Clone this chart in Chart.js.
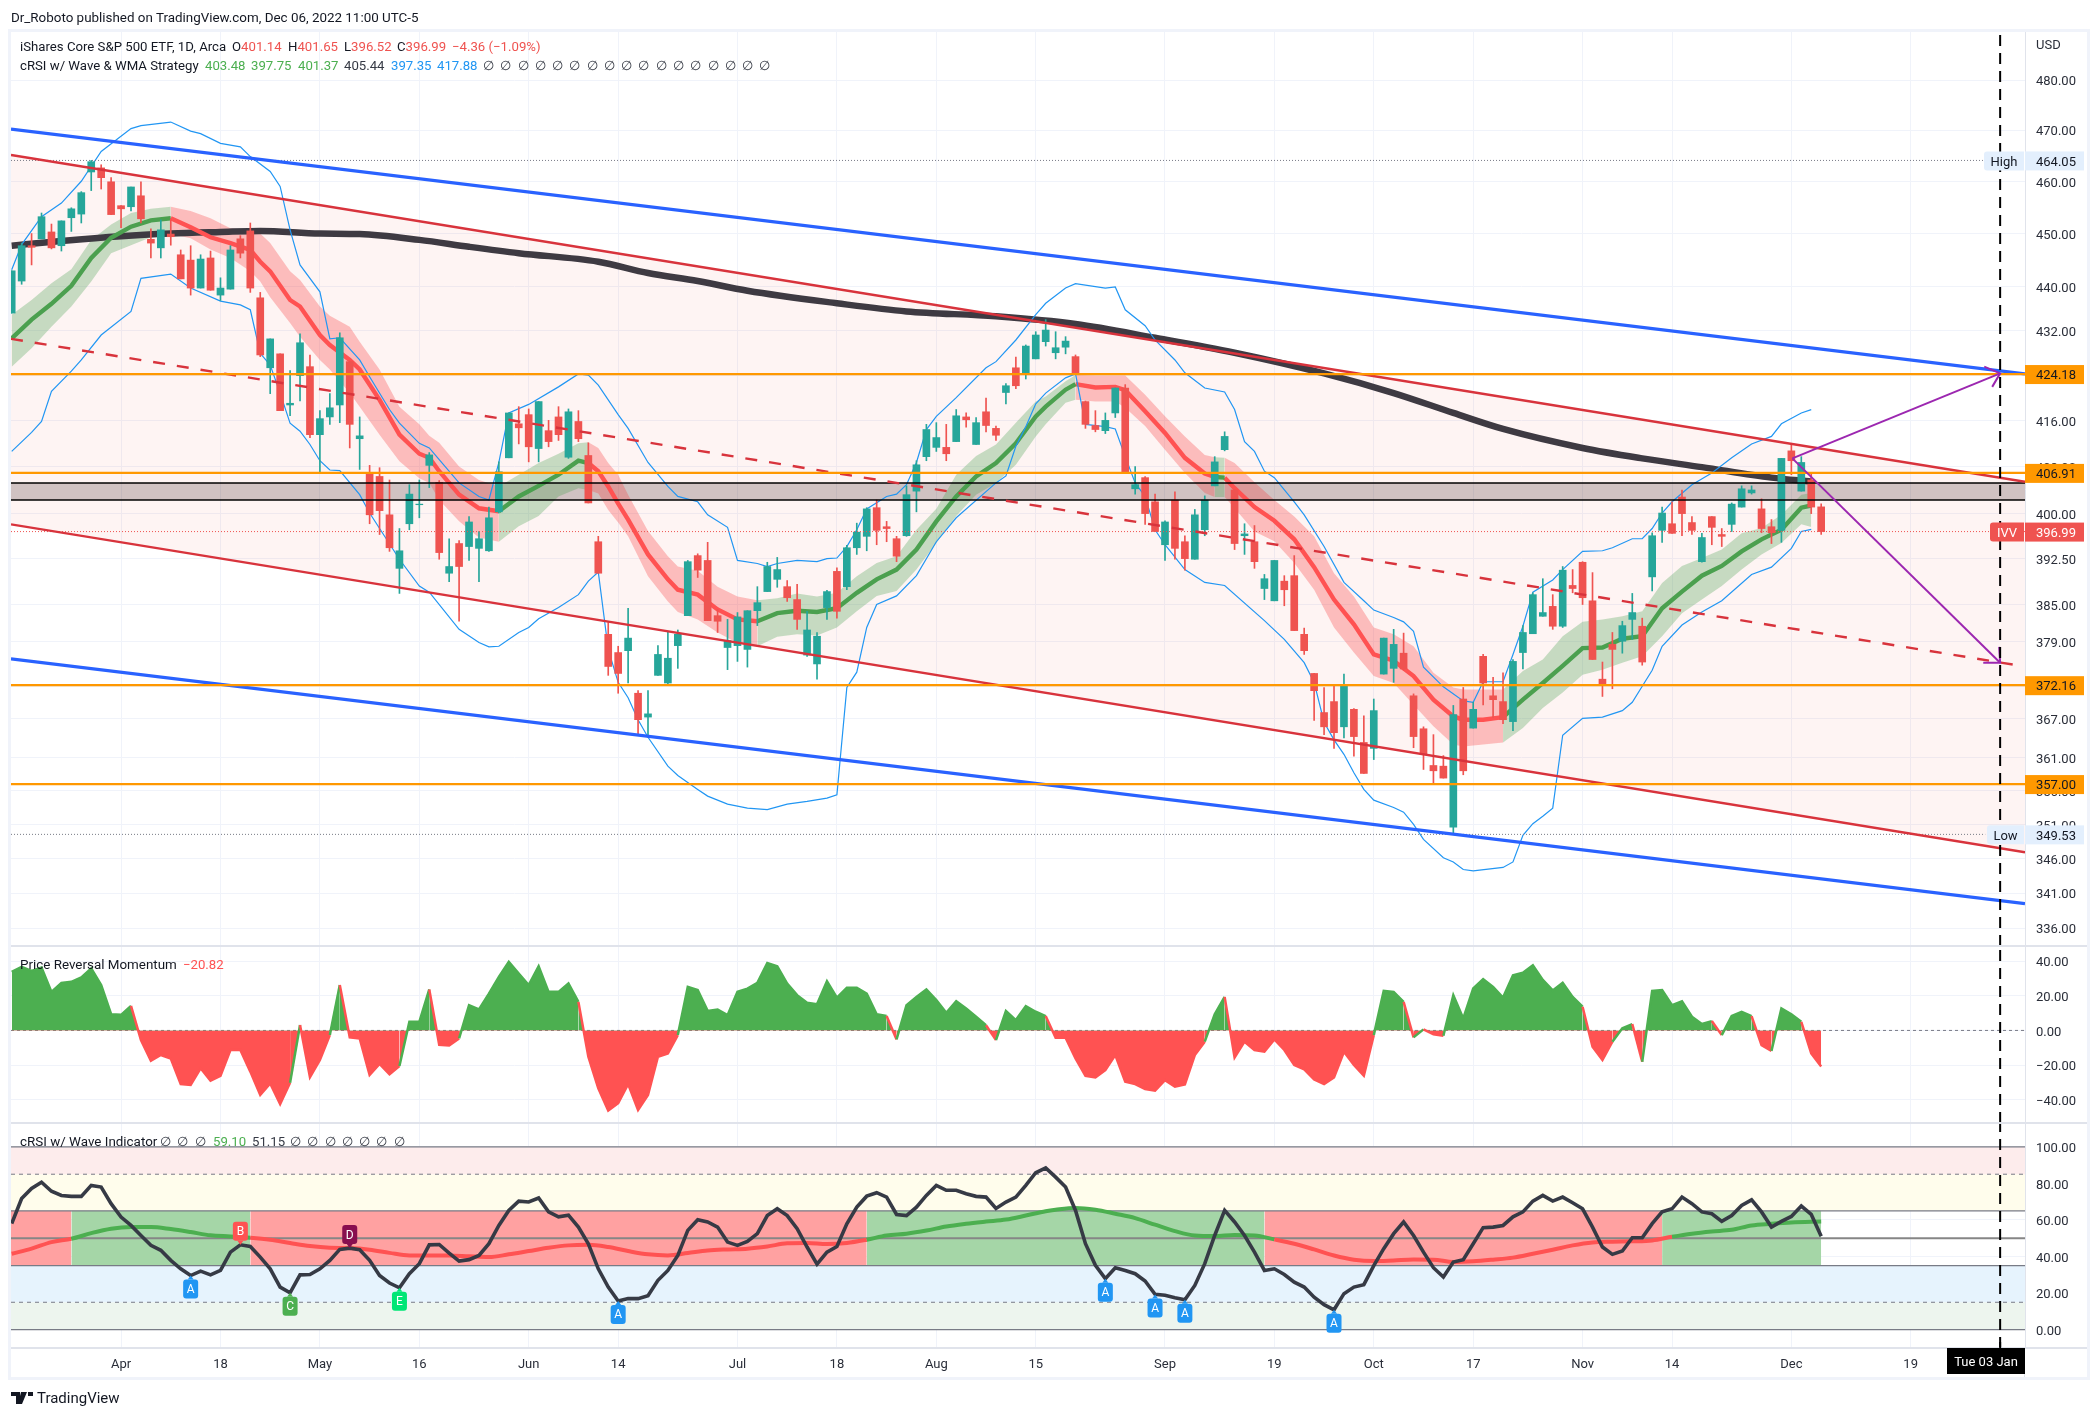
<!DOCTYPE html>
<html>
<head>
<meta charset="utf-8">
<title>IVV</title>
<script src="https://cdn.jsdelivr.net/npm/chart.js@4/dist/chart.umd.min.js"></script>
<style>
  html, body { margin: 0; padding: 0; background: #fff; width: 2099px; height: 1417px; overflow: hidden; }
  body { font-family: Roboto, sans-serif; font-size: 13.2px; color: #131722; position: relative; }
  canvas { position: absolute; left: 0; top: 0; }
  .frame { position: absolute; left: 8px; top: 29px; width: 2082px; height: 1351px; box-sizing: border-box; border: 3px solid #f0f3fa; pointer-events: none; }
  .t { position: absolute; white-space: nowrap; line-height: 16px; }
  .red { color: #ef5350; } .grn { color: #4caf50; } .blu { color: #2196f3; } .drk { color: #363a45; } .mom { color: #ff5252; }
  #logo { position: absolute; left: 11px; top: 1391px; }
</style>
</head>
<body>
<canvas id="myChart" width="2099" height="1417"></canvas>
<div class="frame"></div>
<div class="t" style="left:11px;top:10px;font-size:13.4px">Dr_Roboto published on TradingView.com, Dec 06, 2022 11:00 UTC-5</div>
<div class="t" style="left:20px;top:39px">iShares Core S&amp;P 500 ETF, 1D, Arca</div>
<div class="t" style="left:232px;top:39px">O<span class="red">401.14</span></div>
<div class="t" style="left:288px;top:39px">H<span class="red">401.65</span></div>
<div class="t" style="left:344px;top:39px">L<span class="red">396.52</span></div>
<div class="t" style="left:397px;top:39px">C<span class="red">396.99</span></div>
<div class="t red" style="left:452px;top:39px">−4.36 (−1.09%)</div>
<div class="t" style="left:20px;top:58px">cRSI w/ Wave &amp; WMA Strategy</div>
<div class="t grn" style="left:205px;top:58px">403.48</div>
<div class="t grn" style="left:251px;top:58px">397.75</div>
<div class="t grn" style="left:298px;top:58px">401.37</div>
<div class="t drk" style="left:344px;top:58px">405.44</div>
<div class="t blu" style="left:391px;top:58px">397.35</div>
<div class="t blu" style="left:437px;top:58px">417.88</div>
<div class="t drk" style="left:483px;top:58px;word-spacing:3px">∅ ∅ ∅ ∅ ∅ ∅ ∅ ∅ ∅ ∅ ∅ ∅ ∅ ∅ ∅ ∅ ∅</div>
<div class="t" style="left:20px;top:957px;font-size:13.4px">Price Reversal Momentum</div>
<div class="t mom" style="left:183px;top:957px">−20.82</div>
<div class="t" style="left:20px;top:1134px;font-size:13.4px">cRSI w/ Wave Indicator</div>
<div class="t drk" style="left:160px;top:1134px;word-spacing:3px">∅ ∅ ∅</div>
<div class="t grn" style="left:213px;top:1134px">59.10</div>
<div class="t drk" style="left:252px;top:1134px">51.15</div>
<div class="t drk" style="left:290px;top:1134px;word-spacing:3px">∅ ∅ ∅ ∅ ∅ ∅ ∅</div>
<svg id="logo" width="22" height="14" viewBox="0 0 22 14"><path d="M0 1h9v12H5V5H0zM10 1h6l-5 12H7zM17 1h5v4h-5z" fill="#131722"/></svg>
<div class="t" style="left:37px;top:1389px;font-size:15px;line-height:18px">TradingView</div>

<script>
// bars, index 0 is Apr 1 2022
const firstBar = -11;
const opens = [435.2,441.1,447.7,449.0,450.3,447.7,453.0,453.7,461.8,462.6,459.9,
  455.3,455.1,457.2,448.9,447.3,449.9,446.0,445.0,439.8,445.4,
  438.5,439.6,449.0,450.5,438.0,425.3,427.8,418.7,423.9,425.5,
  413.5,416.6,418.7,426.4,412.8,406.8,406.3,399.8,390.9,398.3,
  401.5,408.2,405.3,390.1,395.0,394.5,394.2,393.8,400.3,409.5,415.4,
  417.0,411.1,414.2,416.6,409.6,415.8,409.9,395.3,380.2,377.3,
  377.6,370.9,367.2,373.7,372.5,378.4,383.2,393.0,392.2,383.2,
  378.1,378.4,377.8,384.0,387.1,389.1,387.9,385.8,376.9,375.5,
  384.5,390.4,387.9,394.3,396.2,401.0,397.8,395.8,396.3,403.8,
  409.7,411.3,411.3,412.3,416.6,411.8,417.5,414.6,420.9,425.3,
  424.2,426.9,430.0,428.0,429.0,427.3,419.3,415.1,414.2,417.3,
  421.7,404.2,406.1,402.0,394.8,402.3,395.3,392.4,397.3,404.7,
  410.9,404.0,396.3,395.3,387.6,385.6,388.8,389.7,380.2,374.0,
  367.9,369.6,365.7,368.4,363.3,362.4,373.9,374.8,377.2,370.5,
  365.4,359.8,359.7,350.6,370.0,365.5,376.7,370.5,369.6,366.5,
  377.3,380.3,383.1,384.7,381.5,388.1,391.9,385.6,373.1,378.6,
  379.1,382.6,381.5,389.5,397.2,398.3,402.8,398.5,392.0,399.5,
  396.5,398.2,401.1,403.5,400.8,397.8,397.2,410.7,403.8,405.7,401.14];
const highs = [443.0,448.2,450.0,453.9,451.8,452.4,454.9,458.0,464.05,463.2,460.7,
  455.3,458.9,459.9,450.9,452.6,452.8,446.9,447.7,446.0,446.7,
  441.7,447.7,449.6,452.0,439.0,430.5,427.8,424.8,431.4,427.6,
  417.7,420.7,431.6,426.4,416.6,408.2,407.8,405.7,397.5,404.9,
  405.7,410.4,405.6,395.8,395.5,399.5,397.0,401.1,408.8,417.3,418.4,
  418.0,419.3,416.0,418.4,418.0,417.7,412.1,396.2,382.1,378.3,
  384.4,371.3,371.3,378.4,380.7,380.9,392.2,393.3,395.2,384.2,
  382.6,383.7,384.0,387.9,391.9,392.7,388.9,388.3,383.9,380.5,
  387.3,391.0,394.7,398.4,401.0,402.3,398.7,396.2,404.7,409.0,
  415.3,415.6,415.3,417.9,417.3,416.5,419.9,415.0,422.5,427.2,
  429.4,431.8,434.0,431.8,430.9,427.6,419.4,417.7,417.3,421.7,
  422.3,408.0,406.3,403.3,398.8,403.7,396.3,400.7,403.0,409.7,
  414.0,404.0,398.3,398.0,389.9,392.2,389.7,393.0,381.2,374.0,
  371.8,372.0,373.9,368.5,367.4,370.0,379.6,381.0,380.4,370.8,
  365.7,364.5,361.3,369.0,371.8,369.5,377.0,373.4,374.1,376.2,
  381.6,386.9,389.2,386.6,391.2,390.7,392.0,390.2,375.8,380.5,
  382.3,386.8,382.8,396.8,401.1,402.0,404.0,399.5,396.7,399.5,
  397.5,401.8,404.7,404.7,402.5,399.0,409.4,411.8,409.7,406.7,401.65];
const lows = [435.2,440.5,444.1,449.0,447.1,446.7,450.4,452.0,458.2,458.5,453.6,
  451.1,454.3,452.0,445.4,445.4,447.8,441.5,438.5,439.8,439.4,
  437.5,439.6,445.4,439.0,427.3,420.7,417.7,416.8,419.4,413.0,
  406.8,415.3,415.6,411.2,407.5,398.3,396.5,393.7,386.8,397.3,
  399.3,404.4,392.4,388.7,382.3,392.2,388.7,393.7,400.1,409.5,411.9,
  408.8,408.8,411.4,412.5,409.4,412.3,401.8,390.1,373.7,370.9,
  372.5,364.4,364.1,373.7,372.2,374.8,383.2,389.4,382.4,380.5,
  374.6,375.9,375.0,381.6,387.1,387.8,385.5,381.0,376.7,373.1,
  382.6,382.8,387.4,393.2,393.8,394.8,395.3,392.0,396.2,400.3,
  409.0,410.6,409.0,412.3,414.8,411.8,414.0,412.5,418.9,421.6,
  423.3,426.9,429.2,426.9,427.8,424.2,414.6,414.0,413.7,416.5,
  407.1,403.3,398.2,397.0,392.2,392.4,390.6,392.4,396.3,404.7,
  410.7,394.0,393.2,390.9,385.8,385.6,384.8,380.8,377.0,366.7,
  364.5,362.4,364.0,361.2,358.6,360.7,373.9,372.6,374.5,362.5,
  359.2,357.2,357.9,349.53,358.4,365.5,369.1,367.1,366.2,365.1,
  374.7,380.3,383.1,381.0,381.3,386.9,385.0,376.2,370.4,371.6,
  377.2,379.4,375.3,387.2,395.2,396.7,396.3,396.5,391.9,394.8,
  394.5,397.0,401.1,403.3,396.8,395.0,395.2,406.6,403.8,400.0,396.52];
const closes = [443.0,447.7,447.4,453.2,447.3,452.4,454.7,457.8,463.8,460.7,453.6,
  454.7,458.9,452.8,448.2,450.7,449.4,441.5,439.8,445.2,439.4,
  439.8,446.9,446.3,439.8,427.6,430.5,417.7,419.0,429.8,413.5,
  416.3,418.2,430.7,415.3,413.3,399.8,400.5,394.3,393.8,403.3,
  401.6,410.0,393.5,391.2,391.2,398.6,395.8,399.3,407.1,417.3,414.7,
  411.4,419.3,412.3,413.5,417.5,412.8,401.8,390.1,375.1,374.0,
  379.6,366.8,367.7,377.0,376.4,380.2,392.0,390.6,382.4,382.3,
  379.2,383.0,384.0,385.3,391.2,390.7,386.1,382.6,380.9,379.9,
  387.1,383.9,394.3,396.9,400.8,397.2,397.5,392.9,403.2,408.3,
  414.4,413.0,410.2,416.8,416.1,415.6,415.1,413.4,422.1,422.1,
  429.2,431.2,432.1,428.9,430.1,424.2,415.3,414.4,416.0,421.7,
  407.1,404.9,400.0,397.0,398.6,394.2,392.5,399.8,402.3,408.8,
  413.2,395.0,396.6,392.0,389.2,392.2,387.4,380.8,377.6,371.3,
  365.7,364.8,372.2,364.2,358.6,368.2,379.6,378.6,374.7,364.2,
  361.5,359.0,357.9,367.6,359.0,368.4,372.5,369.9,366.8,375.9,
  380.5,386.6,383.7,381.5,390.6,387.6,386.1,376.2,372.4,377.8,
  381.6,383.7,375.8,396.3,400.1,396.7,400.0,397.2,396.0,397.7,
  396.2,401.6,404.2,404.0,397.5,396.8,409.4,409.0,408.7,401.1,396.99];

// wave channel on the price pane
const waveIdx = [-11,-9,-7,-5,-3,-1,1,3,5,7,9,11,13,14,15,17,18,20,21,23,24,26,28,30,31,32,34,36,38,
  40,42,44,46,47,48,49,50,51,53,55,56,58,60,62,64,66,68,70,72,74,76,78,80,82,84,86,88,90,92,93,95,96,
  98,100,101,103,105,107,109,110,111,112,114,116,118,120,122,124,126,128,130,132,134,135,137,139,
  141,143,145,147,149,151,153,155,157,159,161,163,165,167,169,170];
const waveUpper = [434.9,437.6,440.7,443.3,448.8,451.7,453.9,454.7,455.1,454.3,452.9,451.0,450.5,450.0,448.2,442.9,441.3,436.4,434.7,432.7,430.0,425.0,418.4,415.3,413.3,412.1,408.0,405.7,404.6,
  406.6,408.6,410.2,412.0,412.2,411.2,408.6,406.6,403.2,397.1,392.9,391.2,390.5,387.9,386.3,385.7,386.0,386.8,386.3,386.9,389.6,391.8,392.9,397.3,400.8,406.6,409.8,411.8,415.6,419.3,420.2,422.9,424.0,
  423.9,423.9,423.9,420.5,416.7,413.2,410.0,409.6,409.5,408.6,405.3,402.3,399.5,396.2,390.1,386.3,381.3,380.2,378.3,374.1,371.8,371.5,371.5,371.5,
  374.4,376.2,379.9,382.2,382.6,383.1,383.9,388.5,391.3,392.6,394.0,396.7,397.6,399.8,403.2,403.48];
const waveMid = [430.6,434.0,436.9,440.2,445.4,449.2,451.3,452.5,452.9,451.2,449.3,448.2,446.9,444.7,442.9,437.6,436.4,431.2,429.4,426.7,425.0,419.6,413.5,410.2,409.5,407.2,403.2,400.9,400.4,
  402.9,404.7,406.6,409.0,408.6,407.2,404.6,401.7,399.0,393.2,389.1,387.4,386.6,384.2,382.6,382.3,383.6,384.0,383.8,384.4,386.9,389.1,390.7,394.0,398.7,402.9,406.3,408.6,412.0,416.7,418.4,421.4,422.4,
  421.8,421.9,421.3,417.6,413.8,409.5,406.8,406.2,406.1,404.3,401.1,398.8,395.7,391.1,385.8,381.8,377.0,376.0,373.6,369.9,367.3,366.8,366.8,367.2,
  369.9,372.5,375.2,378.0,378.1,379.5,379.9,384.4,387.1,389.7,391.3,393.7,395.7,397.3,401.0,401.37];
const waveLower = [425.5,428.8,432.7,436.4,441.0,446.3,447.8,449.3,449.9,449.1,447.0,445.4,442.9,441.0,438.1,433.4,430.9,426.7,425.0,420.8,418.4,413.5,408.9,406.0,405.2,402.3,398.7,396.0,395.3,
  397.9,399.6,402.9,404.3,404.0,403.4,400.6,398.5,396.2,389.6,385.5,383.8,382.6,380.5,378.8,378.3,379.8,380.2,380.0,381.3,383.9,386.4,387.2,390.7,395.1,399.6,403.2,405.2,408.3,413.2,415.3,419.1,419.6,
  419.3,419.3,418.2,415.0,410.9,406.9,403.5,402.8,402.8,400.9,397.0,395.4,391.8,387.4,381.3,377.3,373.6,372.5,369.1,365.8,363.0,362.7,363.0,363.3,
  365.5,368.6,371.0,373.8,374.6,375.7,376.7,379.9,383.6,385.8,388.0,390.7,393.2,395.1,398.2,397.75];
const waveRunStarts = [-11,5,38,47,64,96,110,111,139];
const waveRunEnds = [5,38,47,64,96,110,111,139,170];
const waveRunUp = [true,false,true,false,true,false,true,false,true];

// long moving average
const smaIdx = [-11,-6,0,5,10,14,20,24,30,35,40,48,53,58,63,72,79,88,96,104,112,121,128,134,139,147,153,159,166,170];
const smaVals = [447.7,448.6,449.5,450.0,450.3,450.5,450.0,449.9,448.8,447.5,446.3,444.7,442.6,441.1,439.3,437.0,435.5,434.6,433.2,430.7,428.0,424.3,420.8,417.3,414.5,411.2,409.4,407.9,406.1,405.44];

// thin blue envelope
const envUpIdx = [-11,-10,-8,-6,-4,-2,1,2,5,7,8,10,12,13,15,16,17,18,20,21,22,24,25,27,28,30,31,32,34,36,37,38,39,41,44,46,47,48,50,51,53,55,56,58,59,61,62,64,65,66,68,70,71,72,73,74,75,77,78,79,80,81,82,84,87,88,90,92,93,95,96,99,100,101,103,104,106,107,109,111,112,113,114,115,116,118,119,121,123,125,126,128,129,130,131,133,135,136,137,139,140,141,142,144,145,147,149,150,152,153,154,155,156,158,160,162,164,166,167,169,170];
const envUpVals = [443.2,447.9,453.2,455.8,460.0,465.8,470.3,470.9,471.6,469.8,469.3,467.4,466.7,464.8,461.9,459.0,450.7,444.1,439.1,430.5,430.7,426.7,423.7,417.9,415.5,412.0,411.2,409.2,405.2,402.9,402.3,408.7,417.3,418.8,421.9,424.2,424.0,422.2,417.0,414.6,408.7,404.6,402.9,402.0,399.8,397.7,392.2,391.7,391.2,391.7,392.2,392.0,392.5,392.6,394.5,397.3,400.8,402.9,403.3,404.9,408.7,414.4,416.7,420.0,425.3,426.4,430.3,434.9,437.0,439.8,440.6,439.8,440.0,435.8,432.9,430.3,426.7,424.4,421.7,421.0,417.9,412.3,410.6,407.2,406.1,402.0,399.8,394.5,388.6,385.6,384.1,382.9,382.2,380.7,375.0,371.9,369.7,369.5,372.7,372.7,377.0,381.5,387.0,389.0,390.7,393.7,393.8,394.3,395.8,395.8,397.5,400.1,402.0,404.9,406.9,409.5,411.9,413.2,415.4,417.3,417.88];
const envLowIdx = [-11,-9,-8,-7,-5,-4,-2,1,2,5,7,10,12,13,14,15,16,17,18,19,20,21,22,24,25,28,30,31,34,36,37,38,40,41,42,44,46,47,48,49,50,51,52,53,55,56,58,59,61,63,65,67,69,71,72,73,74,75,76,78,80,82,84,88,89,90,91,92,93,95,96,97,99,100,101,102,103,104,105,107,109,111,115,117,119,120,121,122,123,124,125,126,128,129,130,131,133,134,135,136,139,140,141,142,143,144,145,147,149,151,152,153,154,155,157,159,161,164,166,168,169,170];
const envLowVals = [410.6,413.9,415.8,421.1,424.7,426.7,431.2,435.5,441.6,442.4,439.8,437.4,436.7,435.8,427.9,425.8,420.8,415.5,414.1,411.8,409.0,407.4,407.3,403.2,400.1,392.4,388.0,387.0,381.0,378.9,378.2,378.3,380.5,381.3,382.7,384.5,386.6,388.8,390.3,377.8,372.6,370.2,366.8,364.1,359.7,358.3,356.2,355.2,354.0,353.4,353.2,354.0,354.4,354.9,355.4,371.8,374.2,381.3,385.0,386.4,389.7,395.3,399.3,405.2,406.4,411.5,414.9,418.9,420.8,423.5,424.2,415.3,414.9,414.5,409.7,405.2,402.9,397.3,394.8,390.7,388.6,388.1,382.4,379.4,375.7,372.6,366.4,363.7,361.5,358.7,356.2,354.6,353.5,352.8,351.0,348.8,346.1,345.5,344.4,344.2,344.7,345.5,349.4,351.1,352.2,353.4,364.4,367.0,367.2,368.2,369.5,372.0,374.5,378.3,381.7,383.8,385.6,389.9,391.1,394.2,397.0,397.35];

// drawings on the price pane, [bar, price] ends
const channelTop = [[-11.07,465.1],[191.5,405.4]];
const channelMid = [[-11.07,430.5],[190.7,375.3]];
const channelBottom = [[-11.07,398.2],[191.5,346.9]];
const blueTop = [[-11.07,470.2],[191.5,424.2]];
const blueBottom = [[-11.07,376.3],[191.5,339.5]];
const arrowUp = [[168.1,409.4],[189,424.3]];
const arrowUpHead = [[187.4,425.5],[189,424.3],[188.2,421.9]];
const arrowDown = [[168.1,409.4],[189,375.7]];
const arrowDownHead = [[187.3,375.7],[189,375.7],[188.9,378.2]];
const orangeLevels = [424.18,406.91,372.16,357.0];
const boxTop = 405.2;
const boxBottom = 402.3;

// price reversal momentum
const momentum = [33.8,36.7,34.4,36.3,22.3,27.5,28.1,30.6,35.8,26.2,9.4,
  9.0,14.2,-5.6,-17.5,-14.2,-16.2,-31,-31.5,-21.9,-29,
  -26.3,-11.3,-11.3,-23.8,-37.3,-30.6,-42.5,-30.2,3.1,-27.1,
  -17.1,-2.7,26.2,-4,-4.6,-25.8,-19.4,-25.4,-20.6,5,
  5,23.7,-8.3,-8.7,-4.6,14.6,12.1,21.3,31,39.6,32.9,
  26.2,37.1,22.3,22.3,27.1,16.5,-15.2,-33.5,-46.3,-42.1,
  -31,-46,-37.3,-15.2,-13.3,-2.7,25.2,23.3,11.3,12.1,
  8.8,22.3,24.2,27.5,39,37.1,27.1,20.4,16,15.2,
  28.5,19,24.6,24.6,21.3,9.4,8.3,-5.2,14.6,19.4,
  23.7,17.5,10.2,16.9,12.7,7.9,3,-5.6,11.2,6,
  14.1,10.8,8.3,-4.2,-4.2,-16.2,-26.3,-27.1,-22.9,-14.2,
  -29.6,-31,-33.9,-34.8,-28.7,-32.5,-31.2,-14.2,-6.5,9.4,
  19.4,-15.6,-6.5,-11.3,-12.3,-5.2,-11.3,-20,-22.5,-28.3,
  -31,-27.1,-12.3,-20,-26.2,-2.7,22.9,22.3,16.5,-4,
  0.6,-2.3,-3.1,20.4,6.9,24.2,29.6,25.2,19,31.9,
  33.3,37.7,29.2,23.1,27.5,19.4,13.7,-9.4,-17.1,-6.5,
  1.2,3.7,-18.1,22.9,23.3,14.6,16.9,7.9,3.7,5.4,
  -2.7,8.3,10.8,8.3,-8.5,-11.8,12.7,9.4,5,-13.3,-20.82];

// cRSI pane
const crsi = [58,71.7,77.2,80.6,75.7,73.4,72.9,72.9,78.9,78,68.9,
  61.6,57,51.5,46.1,43.4,37.9,33.3,29.6,32,30,
  32.4,42.4,46.4,45.5,39.7,33.3,23.3,20.2,30,30.2,
  33.3,37.9,43.9,44.6,43.7,37.9,29.6,25.5,22.9,30.6,
  36.1,46.4,46.6,41.9,37.5,38.3,40.6,47,57,65.2,70.3,
  69.8,72,64.4,61.7,62.6,56.1,47,33.3,23.3,15.7,
  17,17,18.6,27,32.4,40.6,54.3,60.1,58.9,56.1,
  47.9,46.1,48.3,52.5,62.4,66.1,62.4,55.2,45.2,35.8,
  42.4,45.5,57.9,67,73,74.9,72.5,63,62.4,67,
  73.4,78.9,76.2,76.2,74.3,72.9,72.5,66.3,69.8,72.5,
  78.9,85.8,88.4,83.4,78,65.2,47,35.2,27.9,33.9,
  32.4,30.6,26.6,19.3,18.8,17.5,16.4,24.2,36.1,51.5,
  65.2,58.9,51.5,42.4,32.4,33.3,30.2,26,23.3,17.8,
  13.7,10.9,19.7,23.3,24.6,35,44.3,52.5,58.9,51.5,
  42.4,33.9,28.8,37,38.3,47,55.8,56.1,57,61.7,
  64.4,70.3,73.4,70.3,72.5,69.4,66.1,56.1,45.2,41.2,
  43,50.3,50.3,58,64.4,66.1,72.5,68.9,64.4,63.4,
  59.2,62.4,67.9,71,64.4,56.1,59.2,61.9,67.6,63,51.15];
const crsiWaveIdx = [-11,-9,-7,-5,-3,-1,1,3,5,7,9,11,13,15,17,19,21,23,25,27,29,31,33,35,37,39,41,43,45,47,49,51,53,55,57,59,61,63,65,67,69,71,73,75,77,79,81,83,85,87,89,91,93,94,96,98,100,102,104,106,108,110,112,114,116,118,120,122,124,126,128,130,132,134,136,138,140,142,144,146,148,150,152,154,156,158,160,162,164,166,168,171];
const crsiWaveVals = [41.5,44.3,47.9,49.7,52.8,55.2,56.1,56.1,55,53.4,51.6,51,50.3,49.2,47.4,45.7,44.8,44.6,43.7,42,40.6,40.6,40.6,40.1,39.7,41.2,43,44.8,46.1,46.4,45.2,43,41.2,40.6,41.9,43.3,43.9,44.3,45.5,47.2,47.4,46.8,47.4,49.2,51.5,52.5,54.2,56.4,57.9,59.1,60.2,62.4,64.8,65.6,66.6,65.6,63.4,61,57.4,53.9,51.5,51.2,51.8,51.5,49.4,47,43.9,40.6,38.3,37.5,37.9,38.4,38.3,37,37.4,38.3,39.4,41.5,43.7,46.1,47.7,48.1,48.3,48.8,50.8,52.5,53.7,54.6,57,57.9,58.6,59.1];
const crsiRunStarts = [-11.07,-5,13,75,115,155];
const crsiRunEnds = [-5,13,75,115,155,171];
const crsiRunUp = [false,true,false,true,false,true];
const markerBars = [7,12,17,23,28,50,99,104,107,122];
const markerTexts = ['A','B','C','D','E','A','A','A','A','A'];
const markerColors = ['#2196f3','#ff5252','#4caf50','#880e4f','#00e676','#2196f3','#2196f3','#2196f3','#2196f3','#2196f3'];
const markerAbove = [false,true,false,true,false,false,false,false,false,false];

// axes
const priceTicks = [480,470,460,450,440,432,424,416,408,400,392.5,385,379,372,367,361,356,351,346,341,336];
const momentumTicks = [40,20,0,-20,-40];
const crsiTicks = [100,80,60,40,20,0];
const timeBars = [0,10,20,30,41,50,62,72,82,92,105,116,126,136,147,156,168,180];
const timeLabels = ['Apr','18','May','16','Jun','14','Jul','18','Aug','15','Sep','19','Oct','17','Nov','14','Dec','19'];
const crossBar = 189;

// right side price tags
const tagValues = [424.18,406.91,372.16,357.0];
const tagFills = ['#ff9800','#ff9800','#ff9800','#ff9800'];
const highValue = 464.05;
const lowValue = 349.53;
const lastValue = 396.99;

const xMin = -11.07, xMax = 191.5;
const TEAL = '#26a69a', RED = '#ef5350';
const GRN_LINE = '#4ba04f', RED_LINE = '#ff5252';
const FONT = 'Roboto, sans-serif';

function pts(xs, ys) { return xs.map((x, i) => ({ x: x, y: ys[i] })); }
function pairs(list) { return list.map(p => ({ x: p[0], y: p[1] })); }
function line(data, axis, color, width, order, extra) {
    return Object.assign({
        type: 'line', data: data, yAxisID: axis, borderColor: color, borderWidth: width,
        pointRadius: 0, order: order, tension: 0, fill: false
    }, extra || {});
}
function level(value, axis, color, width, order, dash, from, to) {
    return line([{ x: from === undefined ? xMin : from, y: value }, { x: to === undefined ? xMax : to, y: value }],
        axis, color, width, order, dash ? { borderDash: dash } : {});
}
function band(top, bottom, axis, color, order, from, to) {
    const f = from === undefined ? xMin : from, t = to === undefined ? xMax : to;
    return [
        line([{ x: f, y: top }, { x: t, y: top }], axis, 'transparent', 0, order, { fill: '+1', backgroundColor: color }),
        line([{ x: f, y: bottom }, { x: t, y: bottom }], axis, 'transparent', 0, order)
    ];
}

const barXs = closes.map((c, i) => firstBar + i);
const datasets = [];

// ---- price pane
datasets.push(line(pairs(channelTop), 'yPrice', 'transparent', 0, 90, { fill: '+1', backgroundColor: 'rgba(244,67,54,0.06)' }));
datasets.push(line(pairs(channelBottom), 'yPrice', 'transparent', 0, 90));
band(boxTop, boxBottom, 'yPrice', 'rgba(80,60,60,0.27)', 85).forEach(d => datasets.push(d));

waveRunStarts.forEach((start, r) => {
    const a = waveIdx.indexOf(start), b = waveIdx.indexOf(waveRunEnds[r]) + 1;
    const up = waveRunUp[r];
    const xs = waveIdx.slice(a, b);
    datasets.push(line(pts(xs, waveUpper.slice(a, b)), 'yPrice', 'transparent', 0, 80,
        { fill: '+1', backgroundColor: up ? 'rgba(70,160,77,0.3)' : 'rgba(250,60,60,0.3)' }));
    datasets.push(line(pts(xs, waveLower.slice(a, b)), 'yPrice', 'transparent', 0, 80));
    datasets.push(line(pts(xs, waveMid.slice(a, b)), 'yPrice', up ? GRN_LINE : RED_LINE, 4.4, 70));
});
datasets.push(line(pts(smaIdx, smaVals), 'yPrice', '#3e3a42', 6.5, 75, { cubicInterpolationMode: 'monotone' }));
datasets.push(line(pts(envUpIdx, envUpVals), 'yPrice', '#2196f3', 1.2, 65));
datasets.push(line(pts(envLowIdx, envLowVals), 'yPrice', '#2196f3', 1.2, 65));

const candleColors = closes.map((c, i) => c >= opens[i] ? TEAL : RED);
datasets.push({
    type: 'bar', yAxisID: 'yPrice', order: 60, grouped: false, barThickness: 1,
    data: barXs.map((x, i) => ({ x: x, y: [lows[i], highs[i]] })), backgroundColor: candleColors
});
datasets.push({
    type: 'bar', yAxisID: 'yPrice', order: 59, grouped: false, barThickness: 7,
    data: barXs.map((x, i) => ({ x: x, y: [opens[i], closes[i]] })), backgroundColor: candleColors
});

datasets.push(line([{ x: xMin, y: boxTop }, { x: xMax, y: boxTop }], 'yPrice', '#000', 1.5, 50));
datasets.push(line([{ x: xMin, y: boxBottom }, { x: xMax, y: boxBottom }], 'yPrice', '#000', 1.5, 50));
datasets.push(line(pairs(channelTop), 'yPrice', '#d8333c', 2.4, 40));
datasets.push(line(pairs(channelBottom), 'yPrice', '#d8333c', 2.4, 40));
datasets.push(line(pairs(channelMid), 'yPrice', '#d8333c', 2.4, 40, { borderDash: [12, 12] }));
datasets.push(line(pairs(blueTop), 'yPrice', '#2962ff', 3.3, 40));
datasets.push(line(pairs(blueBottom), 'yPrice', '#2962ff', 3.3, 40));
orangeLevels.forEach(v => datasets.push(level(v, 'yPrice', '#ff9800', 2.2, 35)));
datasets.push(level(highValue, 'yPrice', '#787b86', 1, 45, [1, 2], xMin, 187.5));
datasets.push(level(lowValue, 'yPrice', '#787b86', 1, 45, [1, 2], xMin, 187.5));
datasets.push(level(lastValue, 'yPrice', '#ef5350', 1, 45, [1, 2]));
[arrowUp, arrowUpHead, arrowDown, arrowDownHead].forEach(a => datasets.push(line(pairs(a), 'yPrice', '#9c27b0', 2, 30)));

// ---- momentum pane
datasets.push(level(0, 'yMom', '#787b86', 1, 58, [3, 3]));
datasets.push(line(pts(barXs, momentum), 'yMom', GRN_LINE, 2.5, 55, {
    fill: { target: 'origin', above: '#4caf50', below: '#ff5252' },
    segment: { borderColor: ctx => ctx.p1.parsed.y > 0 ? '#4caf50' : '#ff5252' }
}));

// ---- cRSI pane
band(100, 85, 'yCrsi', '#fdecec', 95).forEach(d => datasets.push(d));
band(85, 65, 'yCrsi', '#fffdec', 95).forEach(d => datasets.push(d));
band(35, 15, 'yCrsi', '#e6f3fd', 95).forEach(d => datasets.push(d));
band(15, 0, 'yCrsi', '#edf5ee', 95).forEach(d => datasets.push(d));
crsiRunStarts.forEach((start, r) => {
    band(65, 35, 'yCrsi', crsiRunUp[r] ? '#a5d6a7' : '#ffa1a1', 92, start, crsiRunEnds[r]).forEach(d => datasets.push(d));
});
[100, 65, 35, 0].forEach(v => datasets.push(level(v, 'yCrsi', '#787b86', 1.2, 88)));
[85, 15].forEach(v => datasets.push(level(v, 'yCrsi', '#787b86', 1, 88, [4, 4])));
datasets.push(level(50, 'yCrsi', '#868686', 2, 78));
datasets.push(line(pts(crsiWaveIdx, crsiWaveVals), 'yCrsi', RED_LINE, 4, 72, {
    cubicInterpolationMode: 'monotone',
    segment: {
        borderColor: ctx => {
            const x = ctx.p0.parsed.x;
            let r = crsiRunStarts.length - 1;
            while (r > 0 && x < crsiRunStarts[r]) r--;
            return crsiRunUp[r] ? '#4caf50' : RED_LINE;
        }
    }
}));
datasets.push(line(pts(barXs, crsi), 'yCrsi', '#363a45', 3.6, 68));

// crosshair, one piece for each pane
datasets.push(line([{ x: crossBar, y: 333.5 }, { x: crossBar, y: 489.8 }], 'yPrice', '#000', 2, 20, { borderDash: [11, 7] }));
datasets.push(line([{ x: crossBar, y: -53.5 }, { x: crossBar, y: 48.8 }], 'yMom', '#000', 2, 20, { borderDash: [11, 7] }));
datasets.push(line([{ x: crossBar, y: -10 }, { x: crossBar, y: 113 }], 'yCrsi', '#000', 2, 20, { borderDash: [11, 7] }));

function fixedTicks(list) {
    return function (scale) { scale.ticks = list.map(v => ({ value: v })); };
}
function axisY(list, weight, extra) {
    return Object.assign({
        type: 'linear', position: 'right', stack: 'panes', stackWeight: weight, bounds: 'data', beginAtZero: false,
        afterBuildTicks: fixedTicks(list),
        afterFit: scale => { scale.width = 62; },
        grid: { color: '#f0f3fa', drawTicks: false },
        border: { display: true, color: '#e0e3eb' },
        ticks: {
            autoSkip: false, padding: 11, labelOffset: 2, color: '#2a2e39', font: { family: FONT, size: 13 },
            callback: v => (v < 0 ? '−' + Math.abs(v).toFixed(2) : v.toFixed(2))
        }
    }, extra);
}

function roundBox(ctx, x, y, w, h, r, fill) {
    ctx.fillStyle = fill;
    ctx.beginPath();
    ctx.roundRect(x, y, w, h, r);
    ctx.fill();
}

const overlayPlugin = {
    id: 'overlay',
    afterDraw(chart) {
        const ctx = chart.ctx, sx = chart.scales.x, sy = chart.scales.yPrice, s3 = chart.scales.yCrsi, sm = chart.scales.yMom;
        const area = chart.chartArea;
        ctx.save();

        // pane separators
        ctx.fillStyle = '#e0e3eb';
        ctx.fillRect(area.left, sy.bottom - 1, area.right - area.left + 62, 2);
        ctx.fillRect(area.left, sm.bottom - 1, area.right - area.left + 62, 2);
        ctx.fillRect(area.left, area.bottom - 1, area.right - area.left + 62, 2);
        ctx.fillRect(area.right - 1, area.bottom, 1, 30);

        ctx.textBaseline = 'middle';
        ctx.font = '13px ' + FONT;

        // USD
        ctx.textAlign = 'left';
        ctx.fillStyle = '#2a2e39';
        ctx.fillText('USD', 2036, 46);

        // level tags
        tagValues.forEach((v, i) => {
            const y = sy.getPixelForValue(v);
            ctx.fillStyle = tagFills[i];
            ctx.fillRect(area.right, y - 9, 59, 19);
            ctx.fillStyle = '#131722';
            ctx.fillText(v.toFixed(2), 2036, y + 2);
        });

        // high, low and last
        [[highValue, 'High', '#e3effd', '#131722', 40], [lowValue, 'Low', '#e3effd', '#131722', 37], [lastValue, 'IVV', '#ef5350', '#fff', 34]].forEach(t => {
            const y = sy.getPixelForValue(t[0]);
            roundBox(ctx, area.right - t[4] - 1, y - 9, t[4], 19, [3, 0, 0, 3], t[2]);
            ctx.fillStyle = t[2];
            ctx.fillRect(area.right, y - 9, 59, 19);
            ctx.fillStyle = t[3];
            ctx.textAlign = 'center';
            ctx.fillText(t[1], area.right - t[4] / 2 - 1, y + 2);
            ctx.textAlign = 'left';
            ctx.fillText(t[0].toFixed(2), 2036, y + 2);
        });

        // crosshair date
        const cx = sx.getPixelForValue(crossBar);
        ctx.fillStyle = '#000';
        ctx.fillRect(1947, area.bottom, area.right - 1947, 26);
        ctx.fillStyle = '#fff';
        ctx.textAlign = 'center';
        ctx.fillText('Tue 03 Jan', (1947 + area.right) / 2, area.bottom + 15);
        ctx.fillStyle = '#000';
        ctx.fillRect(cx - 1, area.bottom - 6, 2, 6);

        // cRSI signal flags
        ctx.font = '12px ' + FONT;
        markerBars.forEach((bar, i) => {
            const x = sx.getPixelForValue(bar);
            const y = s3.getPixelForValue(crsi[bar - firstBar]);
            const h = 19, w = 15;
            const top = markerAbove[i] ? y - 4 - h : y + 4;
            ctx.fillStyle = markerColors[i];
            ctx.beginPath();
            ctx.moveTo(x, y);
            ctx.lineTo(x - 3, markerAbove[i] ? y - 4 : y + 4);
            ctx.lineTo(x + 3, markerAbove[i] ? y - 4 : y + 4);
            ctx.closePath();
            ctx.fill();
            roundBox(ctx, x - w / 2, top, w, h, 3, markerColors[i]);
            ctx.fillStyle = '#fff';
            ctx.fillText(markerTexts[i], x, top + h / 2 + 1);
        });
        ctx.restore();
    }
};

new Chart(document.getElementById('myChart').getContext('2d'), {
    type: 'line',
    data: { datasets: datasets },
    plugins: [overlayPlugin],
    options: {
        responsive: false,
        animation: false,
        events: [],
        parsing: { xAxisKey: 'x', yAxisKey: 'y' },
        layout: { padding: { left: 11, top: 32, right: 12, bottom: 39 } },
        plugins: { legend: { display: false }, tooltip: { enabled: false } },
        scales: {
            x: {
                type: 'linear', min: xMin, max: xMax, offset: false, bounds: 'data',
                afterBuildTicks: fixedTicks(timeBars),
                afterFit: scale => { scale.height = 30; },
                grid: { color: '#f0f3fa', drawTicks: false, offset: false },
                border: { display: false },
                ticks: {
                    autoSkip: false, maxRotation: 0, minRotation: 0, padding: 9, color: '#2a2e39',
                    font: { family: FONT, size: 13 },
                    callback: v => timeLabels[timeBars.indexOf(v)]
                }
            },
            yPrice: axisY(priceTicks, 914, { type: 'logarithmic', min: 333.5, max: 489.8 }),
            yMom: axisY(momentumTicks, 177, { min: -53.5, max: 48.8 }),
            yCrsi: axisY(crsiTicks, 225, { min: -10, max: 113 })
        }
    }
});
</script>
</body>
</html>
